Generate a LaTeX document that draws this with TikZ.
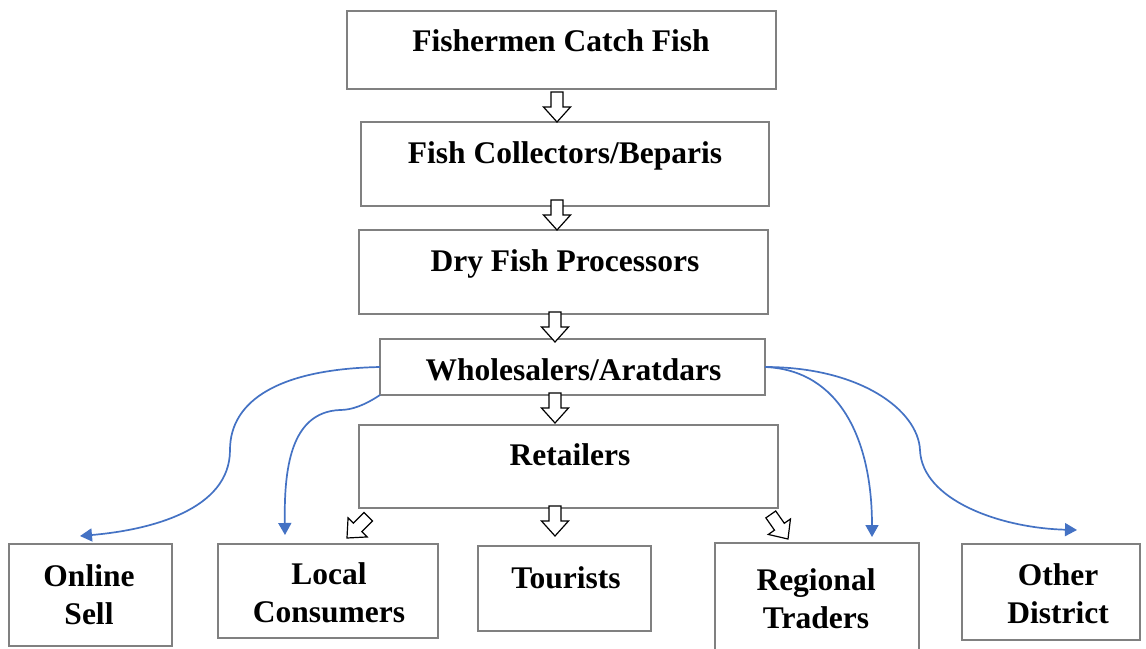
\documentclass[tikz,border=0pt]{standalone}
\usepackage{fontspec}
\setmainfont{Liberation Serif}
\usetikzlibrary{arrows.meta,calc}
\definecolor{boxgray}{RGB}{128,128,128}
\definecolor{flowblue}{RGB}{68,114,196}
\begin{document}
\begin{tikzpicture}[x=1pt,y=-1pt,
  box/.style={draw=boxgray,line width=1.3pt,fill=white,inner sep=0pt,outer sep=0pt},
  txt/.style={font=\bfseries\fontsize{31.5}{38}\selectfont,inner sep=0pt,anchor=base,align=center},
  flow/.style={draw=flowblue,line width=1.7pt,-{Triangle[width=13pt,length=12pt]}},
  hollow/.pic={\draw[line width=1.2pt,fill=white,line join=miter]
     (-6,-30) -- (-6,-15) -- (-13.5,-15) -- (0,0) -- (13.5,-15) -- (6,-15) -- (6,-30) -- cycle;}
]
\useasboundingbox[fill=white] (0,0) rectangle (1146,648);

% main chain boxes
\node[box,minimum width=429,minimum height=78] (fish) at (561.5,50) {};
\node[box,minimum width=408,minimum height=84] (coll) at (565,164) {};
\node[box,minimum width=409,minimum height=84] (proc) at (563.5,272) {};
\node[box,minimum width=385,minimum height=56] (whole) at (572.5,367) {};
\node[box,minimum width=419,minimum height=83] (ret) at (568.5,466.5) {};

% bottom boxes
\node[box,minimum width=163,minimum height=102] (online) at (90.5,595) {};
\node[box,minimum width=220,minimum height=94] (local) at (328,591) {};
\node[box,minimum width=173,minimum height=85] (tour) at (564.5,588.5) {};
\node[box,minimum width=204,minimum height=110] (reg) at (817,598) {};
\node[box,minimum width=178,minimum height=96] (other) at (1051,592) {};

% texts (two-line nodes: base = baseline of last line)
\node[txt] (tfish) at (561,51) {Fishermen Catch Fish};
\node[txt] (tcoll) at (565,163) {Fish Collectors/Beparis};
\node[txt] (tproc) at (565,271) {Dry Fish Processors};
\node[txt] (twhole) at (573.5,380) {Wholesalers/Aratdars};
\node[txt] (tret) at (570,465) {Retailers};
\node[txt] (tonline) at (89,624) {Online\\Sell};
\node[txt] (tlocal) at (329,622) {Local\\Consumers};
\node[txt] (ttour) at (566,588) {Tourists};
\node[txt] (treg) at (816,628) {Regional\\Traders};
\node[txt] (tother) at (1058,623) {Other\\District};

% hollow block arrows
\pic at (557,122) {hollow};
\pic at (557,230) {hollow};
\pic at (555,342) {hollow};
\pic at (555,423) {hollow};
\pic at (555,536) {hollow};
\pic[rotate=-45] at (347,538) {hollow};
\pic[rotate=35] at (788,539) {hollow};

% blue curved connectors
\coordinate (e1) at (80,536);
\coordinate (e2) at (285,535);
\coordinate (e3) at (872,537);
\coordinate (e4) at (1077,530);
\draw[flow] (whole.west) .. controls (280,369) and (230,400) .. (230,450)
   .. controls (230,510) and (150,530) .. (e1);
\draw[flow] (whole.south west) .. controls (365,405) and (352,410) .. (340,410)
   .. controls (290,412) and (284,470) .. (e2);
\draw[flow] (whole.east) .. controls (840,370) and (872,440) .. (e3);
\draw[flow] (whole.east) .. controls (860,367) and (918,410) .. (920,450)
   .. controls (922,500) and (1000,528) .. (e4);
\end{tikzpicture}
\end{document}
